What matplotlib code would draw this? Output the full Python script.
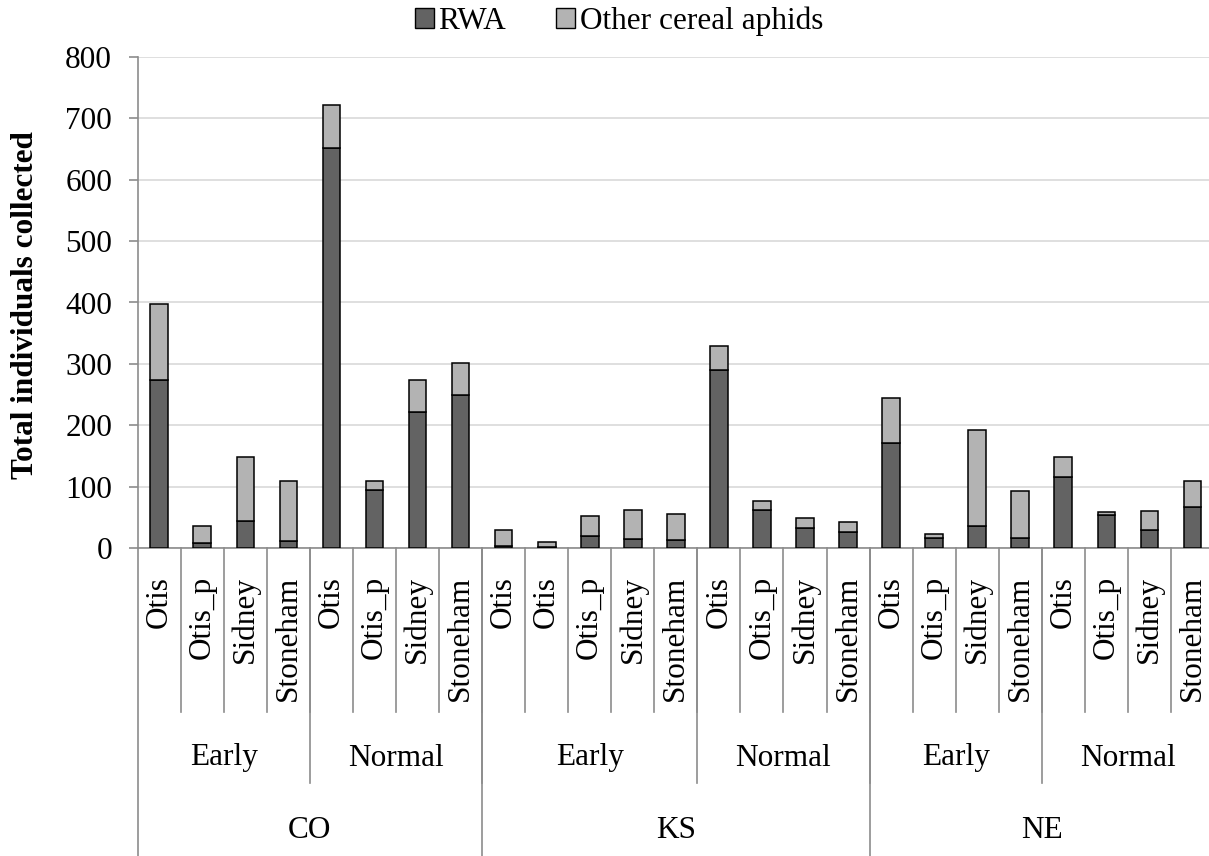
import matplotlib
matplotlib.use("Agg")
import matplotlib.pyplot as plt
from matplotlib.patches import Patch
import matplotlib.transforms as mtransforms

sites = ["Otis", "Otis_p", "Sidney", "Stoneham", "Otis", "Otis_p", "Sidney", "Stoneham",
         "Otis", "Otis", "Otis_p", "Sidney", "Stoneham", "Otis", "Otis_p", "Sidney", "Stoneham",
         "Otis", "Otis_p", "Sidney", "Stoneham", "Otis", "Otis_p", "Sidney", "Stoneham"]
seasons = [("Early", 4), ("Normal", 4), ("Early", 5), ("Normal", 4), ("Early", 4), ("Normal", 4)]
states = [("CO", 8), ("KS", 9), ("NE", 8)]

rwa = [274, 8, 45, 12, 651, 95, 222, 250,
       4, 2, 20, 15, 14, 290, 63, 33, 27,
       171, 17, 37, 17, 116, 54, 29, 68]
other = [123, 28, 104, 98, 70, 15, 52, 51,
         26, 8, 33, 48, 42, 39, 14, 16, 15,
         74, 7, 156, 76, 32, 5, 31, 41]

yticks = [0, 100, 200, 300, 400, 500, 600, 700, 800]

plt.rcParams['font.family'] = ['Liberation Serif', 'DejaVu Serif']
FS = 22.5
W, H = 1209, 856
fig = plt.figure(figsize=(W / 100, H / 100), dpi=100)
left, right = 137.7, 1214.0
top, bottom = 56.7, 548.3
ax = fig.add_axes([left / W, (H - bottom) / H, (right - left) / W, (bottom - top) / H])

x = list(range(len(sites)))
c_rwa = "#636363"
c_oth = "#b3b3b3"
bw = 0.41
ax.bar(x, rwa, width=bw, color=c_rwa, edgecolor="black", linewidth=1.1, zorder=3)
ax.bar(x, other, width=bw, bottom=rwa, color=c_oth, edgecolor="black", linewidth=1.1, zorder=3)

ax.set_xlim(-0.5, len(sites) - 0.5)
ax.set_ylim(0, 800)
ax.set_yticks(yticks)
ax.set_yticklabels([str(v) for v in yticks], fontsize=FS)
ax.yaxis.grid(True, color="#d9d9d9", linewidth=1.2, zorder=0)
ax.set_axisbelow(True)
for s in ["top", "right"]:
    ax.spines[s].set_visible(False)
gray = "#8c8c8c"
ax.spines["left"].set_color(gray)
ax.spines["bottom"].set_color(gray)
ax.spines["left"].set_linewidth(1.2)
ax.spines["bottom"].set_linewidth(1.2)
ax.tick_params(axis="y", length=6.5, width=1.2, color=gray, pad=12)
ax.set_xticks([])

fig.text(26 / W, 1 - 305 / H, "Total individuals collected", rotation=90,
         ha="center", va="center", fontsize=FS, fontweight="bold")

trans = mtransforms.blended_transform_factory(ax.transData, ax.transAxes)
ph = bottom - top
def fy(pix):
    return (bottom - pix) / ph

lw = 1.2
# left edge line to bottom
ax.plot([-0.5, -0.5], [0, fy(H + 5)], transform=trans, color=gray, lw=lw, clip_on=False)
# site separators
for i in range(len(sites) - 1):
    ax.plot([i + 0.5, i + 0.5], [0, fy(712)], transform=trans, color=gray, lw=lw, clip_on=False)
# site labels
for i, s in enumerate(sites):
    ax.text(i, fy(576), s, transform=trans, rotation=90, ha="center", va="top", fontsize=FS)
# season separators and labels
pos = 0
for name, n in seasons:
    ax.text(pos + n / 2 - 0.5, fy(758), name, transform=trans, ha="center", va="center", fontsize=FS)
    pos += n
    if pos < len(sites):
        ax.plot([pos - 0.5, pos - 0.5], [0, fy(783)], transform=trans, color=gray, lw=lw, clip_on=False)
# state separators and labels
pos = 0
for name, n in states:
    ax.text(pos + n / 2 - 0.5, fy(830), name, transform=trans, ha="center", va="center", fontsize=FS)
    pos += n
    if pos < len(sites):
        ax.plot([pos - 0.5, pos - 0.5], [0, fy(H + 5)], transform=trans, color=gray, lw=lw, clip_on=False)

handles = [Patch(facecolor=c_rwa, edgecolor="black", linewidth=1.0, label="RWA"),
           Patch(facecolor=c_oth, edgecolor="black", linewidth=1.0, label="Other cereal aphids")]
fig.legend(handles=handles, loc="center", bbox_to_anchor=(619 / W, 1 - 21 / H), ncol=2,
           frameon=False, fontsize=FS, handlelength=0.6, handleheight=0.6,
           handletextpad=0.15, columnspacing=1.6, borderaxespad=0)

fig.savefig("out.png", dpi=100)
